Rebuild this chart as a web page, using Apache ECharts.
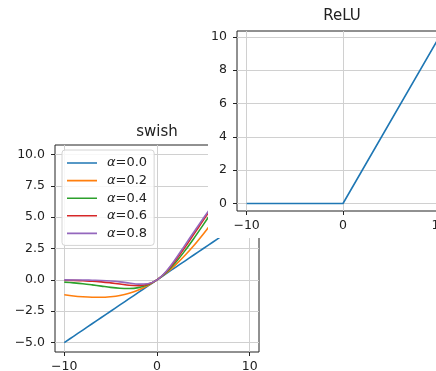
<!DOCTYPE html>
<html>
<head>
<meta charset="utf-8">
<script src="https://cdn.jsdelivr.net/npm/echarts@6/dist/echarts.min.js"></script>
<style>
html,body{margin:0;padding:0;background:#fff;}
#c{width:436px;height:371px;}
</style>
</head>
<body>
<div id="c"></div>
<script>
// ---- data ----
const xValues = [-10,-9,-8,-7,-6,-5,-4,-3,-2,-1,0,1,2,3,4,5,6,7,8,9,10];
const swishA00 = [-5,-4.5,-4,-3.5,-3,-2.5,-2,-1.5,-1,-0.5,0,0.5,1,1.5,2,2.5,3,3.5,4,4.5,5];
const swishA02 = [-1.19,-1.28,-1.34,-1.38,-1.39,-1.34,-1.24,-1.06,-0.80,-0.45,0,0.55,1.20,1.94,2.76,3.66,4.61,5.62,6.66,7.72,8.81];
const swishA04 = [-0.18,-0.24,-0.31,-0.40,-0.50,-0.60,-0.67,-0.69,-0.62,-0.40,0,0.60,1.38,2.31,3.33,4.40,5.50,6.60,7.69,8.76,9.82];
const swishA06 = [-0.03,-0.04,-0.07,-0.10,-0.16,-0.24,-0.33,-0.43,-0.46,-0.35,0,0.65,1.54,2.57,3.67,4.76,5.84,6.90,7.93,8.96,9.98];
const swishA08 = [0,-0.01,-0.01,-0.03,-0.05,-0.09,-0.16,-0.25,-0.34,-0.31,0,0.69,1.66,2.75,3.84,4.91,5.95,6.97,7.99,8.99,10.00];
const seriesNames = ['α=0.0','α=0.2','α=0.4','α=0.6','α=0.8'];
const reluX = [-10, 0, 10];
const reluY = [0, 0, 10];
const swishXTicks = [-10, 0, 10];
const swishYTicks = [-5, -2.5, 0, 2.5, 5, 7.5, 10];
const reluXTicks = [-10, 0, 10];
const reluYTicks = [0, 2, 4, 6, 8, 10];
const titles = ['swish', 'ReLU'];

// ---- styles ----
const colors = ['#1f77b4','#ff7f0e','#2ca02c','#d62728','#9467bd'];
const FONT = 'DejaVu Sans';
const gridColor = '#d0d0d0';
const frameColor = '#222';
const minus = s => String(s).replace('-', '\u2212');
const lineIcon = 'path://M0,0L0,0.01M0,6.2L30,6.2L30,7.8L0,7.8ZM30,14L30,13.99';

function valAxis(gridIndex, min, max, ticks, fmt, z, margin) {
  return {
    type: 'value', gridIndex, min, max, z,
    axisLine: {show: false, onZero: false},
    axisTick: {show: true, inside: false, length: 4, customValues: ticks,
               lineStyle: {color: frameColor, width: 1}},
    axisLabel: {show: true, customValues: ticks, margin: margin, color: '#222',
                fontFamily: FONT, fontSize: 12.5, formatter: v => minus(fmt(v))},
    splitLine: {show: true, lineStyle: {color: gridColor, width: 1}},
  };
}

const swishData = [swishA00, swishA02, swishA04, swishA06, swishA08];
const series = swishData.map((ys, i) => ({
  type: 'line', name: seriesNames[i], xAxisIndex: 0, yAxisIndex: 0,
  data: xValues.map((x, k) => [x, ys[k]]),
  symbol: 'none', smooth: 0.35, z: 2,
  lineStyle: {color: colors[i], width: 1.6}, itemStyle: {color: colors[i]},
}));
series.push({
  type: 'line', name: 'relu', xAxisIndex: 1, yAxisIndex: 1,
  data: reluX.map((x, k) => [x, reluY[k]]),
  symbol: 'none', z: 9,
  lineStyle: {color: colors[0], width: 1.6},
});

const option = {
  backgroundColor: '#fff',
  animation: false,
  title: [
    {text: titles[0], left: 157, top: 125, textAlign: 'center', padding: 0,
     textStyle: {fontFamily: FONT, fontSize: 15, fontWeight: 'normal', color: '#222'}},
    {text: titles[1], left: 342, top: 9, textAlign: 'center', padding: 0, z: 8,
     textStyle: {fontFamily: FONT, fontSize: 15, fontWeight: 'normal', color: '#222'}},
  ],
  graphic: [{type: 'rect', z: 5, shape: {x: 208, y: 0, width: 228, height: 238},
             style: {fill: '#fff'}}],
  grid: [
    {left: 55, top: 145, width: 204, height: 207, show: true, borderColor: frameColor,
     borderWidth: 1, backgroundColor: '#fff', z: 0, outerBoundsMode: 'none', containLabel: false},
    {left: 237, top: 31, width: 212, height: 180, show: true, borderColor: frameColor,
     borderWidth: 1, backgroundColor: '#fff', z: 6, outerBoundsMode: 'none', containLabel: false},
  ],
  xAxis: [
    valAxis(0, -11, 11, swishXTicks, v => String(v), 0, 8),
    valAxis(1, -11, 11, reluXTicks, v => String(v), 6, 8),
  ],
  yAxis: [
    valAxis(0, -5.75, 10.75, swishYTicks, v => v.toFixed(1), 0, 10),
    valAxis(1, -0.45, 10.35, reluYTicks, v => String(v), 6, 10),
  ],
  legend: {
    orient: 'vertical', left: 62, top: 150, z: 4,
    data: seriesNames.map(n => ({name: n, icon: lineIcon})),
    itemWidth: 30, itemHeight: 14, itemGap: 3.6,
    padding: [6, 7, 5, 5],
    backgroundColor: 'rgba(255,255,255,0.85)', borderColor: '#d4d4d4', borderWidth: 1,
    borderRadius: 3,
    formatter: name => '{i|α}{t|' + name.slice(1) + '}',
    textStyle: {fontFamily: FONT, fontSize: 13, color: '#222', lineHeight: 14,
      rich: {
        i: {fontFamily: FONT, fontStyle: 'italic', fontSize: 13, color: '#222', padding: [0,0,0,5], lineHeight: 14},
        t: {fontFamily: FONT, fontSize: 13, color: '#222', lineHeight: 14},
      }},
  },
  series,
};
const chart = echarts.init(document.getElementById('c'), null, {renderer: 'canvas'});
chart.setOption(option);
</script>
</body>
</html>
